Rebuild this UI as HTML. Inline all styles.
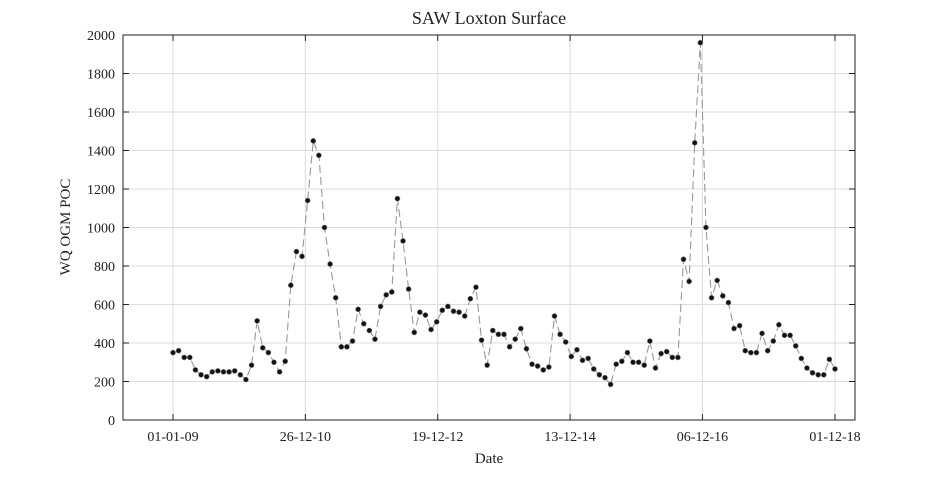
<!DOCTYPE html>
<html><head><meta charset="utf-8"><style>
body{margin:0;background:#fff}
svg text{font-family:"Liberation Serif",serif;fill:#222}
</style></head><body>
<svg id="c" width="945" height="472" xmlns="http://www.w3.org/2000/svg"></svg>
<script>
const values=[350,360,325,325,260,235,225,250,255,250,250,255,235,210,285,515,375,350,300,250,305,700,875,850,1140,1450,1375,1000,810,635,380,380,410,575,500,465,420,590,650,665,1150,930,680,455,560,545,470,510,570,590,565,560,540,630,690,415,285,465,445,445,380,420,475,370,290,280,260,275,540,445,405,330,365,310,320,265,235,220,185,290,305,350,300,300,285,410,270,345,355,325,325,835,720,1440,1960,1000,635,725,645,610,475,490,360,350,350,450,360,410,495,440,440,385,320,270,245,235,235,315,265];
const xTickLabels=["01-01-09","26-12-10","19-12-12","13-12-14","06-12-16","01-12-18"];
const xTickDays=[0,724,1448,2172,2896,3621];
const yTicks=[0,200,400,600,800,1000,1200,1400,1600,1800,2000];
const L=123,R=855,T=35,B=420;
const xs=d=>173+d*(662/3621);
const ys=v=>B-(v/2000)*(B-T);
const svg=document.getElementById('c');const NS="http://www.w3.org/2000/svg";
function mk(t,a,p){const e=document.createElementNS(NS,t);for(const k in a)e.setAttribute(k,a[k]);(p||svg).appendChild(e);return e;}
let e;
e=mk('rect',{x:L,y:T,width:R-L,height:B-T,fill:'#fff',stroke:'none'});


yTicks.forEach(v=>{
 e=mk('line',{x1:L,x2:R,y1:ys(v),y2:ys(v),stroke:'#dcdcdc','stroke-width':1});
 
 
 mk('line',{x1:L,x2:L+6,y1:ys(v),y2:ys(v),stroke:'#222'});
 mk('line',{x1:R,x2:R-6,y1:ys(v),y2:ys(v),stroke:'#222'});
 e=mk('text',{x:L-8,y:ys(v)+5,'text-anchor':'end','font-size':14});e.textContent=v;
 
 
});
xTickDays.forEach((d,i)=>{
 const x=xs(d);
 e=mk('line',{x1:x,x2:x,y1:T,y2:B,stroke:'#dcdcdc','stroke-width':1});
 
 
 mk('line',{x1:x,x2:x,y1:B,y2:B-6,stroke:'#222'});
 mk('line',{x1:x,x2:x,y1:T,y2:T+6,stroke:'#222'});
 e=mk('text',{x:x,y:441,'text-anchor':'middle','font-size':14});e.textContent=xTickLabels[i];
 
 
});
e=mk('rect',{x:L,y:T,width:R-L,height:B-T,fill:'none',stroke:'#222','stroke-width':1});


const step=3621/(values.length-1);
const pts=values.map((v,i)=>[xs(i*step),ys(v)]);
e=mk('polyline',{points:pts.map(p=>p.join(',')).join(' '),fill:'none',stroke:'#999','stroke-width':1.1,'stroke-dasharray':'8,4'});


pts.forEach(p=>{
 e=mk('circle',{cx:p[0],cy:p[1],r:2.5,fill:'#111',stroke:'#777','stroke-width':0.6});
 
 
});
e=mk('text',{x:489,y:24,'text-anchor':'middle','font-size':18});e.textContent="SAW Loxton Surface";


e=mk('text',{x:489,y:463,'text-anchor':'middle','font-size':15});e.textContent="Date";


e=mk('text',{x:0,y:0,'text-anchor':'middle','font-size':15,transform:'translate(70,227) rotate(-90)'});e.textContent="WQ OGM POC";


</script>
</body></html>
